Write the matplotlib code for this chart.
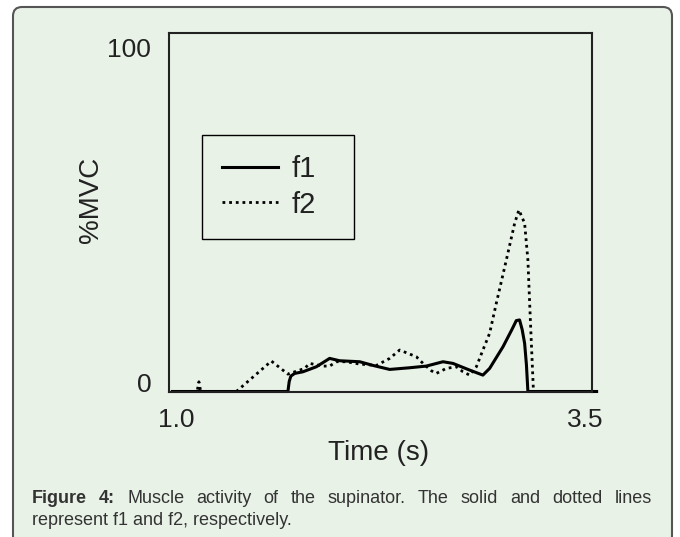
import matplotlib
matplotlib.use("Agg")
import matplotlib.pyplot as plt
from matplotlib.patches import FancyBboxPatch

plt.rcParams['font.family'] = ['Liberation Sans', 'DejaVu Sans']

# data
f1_t = [0.974, 1.680, 1.688, 1.698, 1.721, 1.772, 1.854, 1.935, 1.996, 2.119,
        2.200, 2.302, 2.424, 2.526, 2.628, 2.689, 2.791, 2.872, 2.913, 2.995,
        3.050, 3.076, 3.096, 3.112, 3.127, 3.138, 3.147, 3.567]
f1_v = [0, 0, 3.0, 4.6, 5.4, 5.9, 7.4, 9.9, 9.2, 8.9,
        7.8, 6.6, 7.1, 7.6, 8.9, 8.4, 6.4, 4.9, 6.9, 13.4,
        18.6, 21.2, 21.4, 18.5, 14.4, 8.0, 0, 0]

f2_t = [0.974, 1.125, 1.136, 1.147, 1.365, 1.579, 1.680, 1.782, 1.813, 1.894,
        1.935, 1.976, 2.037, 2.119, 2.221, 2.302, 2.363, 2.465, 2.506, 2.557,
        2.587, 2.648, 2.710, 2.750, 2.791, 2.832, 2.872, 2.913, 2.954, 3.015,
        3.066, 3.092, 3.127, 3.147, 3.162, 3.181, 3.567]
f2_v = [0, 0, 2.9, 0, 0, 9.1, 5.2, 6.9, 8.4, 7.6,
        7.6, 8.9, 8.9, 8.2, 7.8, 9.9, 12.4, 10.4, 8.4, 6.2,
        5.4, 6.9, 7.4, 5.9, 4.9, 7.4, 12.4, 17.4, 26.4, 39.3,
        50.3, 54.3, 50.3, 39.3, 21.4, 0, 0]

x_ticks = [1.0, 3.5]
x_labels = ['1.0', '3.5']
y_ticks = [0, 100]
y_labels = ['0', '100']

caption_bold = 'Figure 4:'
caption_line1 = 'Muscle activity of the supinator. The solid and dotted lines'
caption_line2 = 'represent f1 and f2, respectively.'

panel = '#e8f2e7'
ink = '#222222'

fig = plt.figure(figsize=(6.8, 5.37), dpi=100, facecolor='white')
fig.patches.append(FancyBboxPatch((13, -8), 659, 538,
                                  boxstyle='round,pad=0,rounding_size=9',
                                  transform=None, facecolor=panel,
                                  edgecolor='#555555', linewidth=1.5, zorder=-10))

ax = fig.add_axes([169.3 / 680, 1 - 391.5 / 537, 422.4 / 680, 358.8 / 537])
ax.set_facecolor('none')

ax.plot(f1_t, f1_v, color='black', lw=2.2, clip_on=False, label='f1',
        solid_joinstyle='round')
l2, = ax.plot(f2_t, f2_v, color='black', lw=2.0, clip_on=False, label='f2',
              dash_capstyle='butt')
l2.set_dashes((1, 1.4))

ax.set_xlim(0.955, 3.537)
ax.set_ylim(0, 107.3)
ax.set_xticks(x_ticks)
ax.set_xticklabels(x_labels)
ax.set_yticks(y_ticks)
ax.set_yticklabels(y_labels)
for lab in ax.get_yticklabels():
    lab.set_va('baseline')
ax.tick_params(length=0, labelsize=19, colors=ink)
ax.tick_params(axis='x', pad=12)
ax.tick_params(axis='y', pad=13)
for s in ax.spines.values():
    s.set_linewidth(1.5)
    s.set_color(ink)

ax.set_xlabel('Time (s)', fontsize=20, color=ink, va='center')
ax.xaxis.set_label_coords(0.4965, -0.171)
ax.set_ylabel('%MVC', fontsize=20, color=ink, va='center')
ax.yaxis.set_label_coords((91 - 169.3) / 422.4, (391.5 - 200) / 358.8)

# legend box: top edge at y=135 px, spanning x=202..354 px
leg = ax.legend(loc='upper left', mode='expand',
                bbox_to_anchor=(202 / 680, 1 - 237 / 537, 152 / 680, 102 / 537),
                bbox_transform=fig.transFigure, borderaxespad=0,
                fontsize=21, handlelength=1.92, handletextpad=0.45,
                labelspacing=0.25, borderpad=0.7, fancybox=False,
                edgecolor='black', facecolor='none', framealpha=1)
leg.get_frame().set_linewidth(1.0)
for t in leg.get_texts():
    t.set_color(ink)

# caption, first line justified between the panel margins
fig.canvas.draw()
r = fig.canvas.get_renderer()
x_left, x_right = 32, 652
words = [(w, 'bold') for w in caption_bold.split()] + \
        [(w, 'normal') for w in caption_line1.split()]
items = []
for w, wt in words:
    t = fig.text(0, 1 - 503 / 537, w, fontsize=13, fontweight=wt,
                 color='#333333', va='baseline', ha='left')
    items.append(t)
widths = [t.get_window_extent(r).width for t in items]
gap = (x_right - x_left - sum(widths)) / (len(items) - 1)
x = x_left
for t, wd in zip(items, widths):
    t.set_x(x / 680)
    x += wd + gap
fig.text(x_left / 680, 1 - 525 / 537, caption_line2, fontsize=13,
         color='#333333', va='baseline', ha='left')

fig.savefig('out.png', dpi=100, facecolor='white')
